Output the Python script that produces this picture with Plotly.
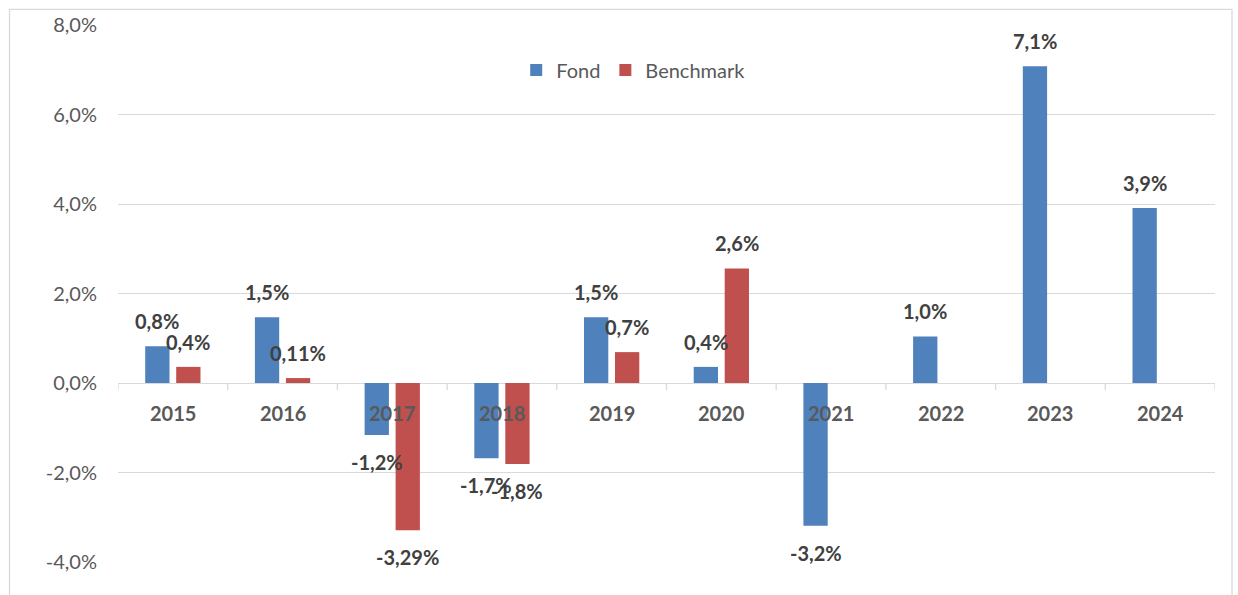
import plotly.graph_objects as go

years = ["2015", "2016", "2017", "2018", "2019", "2020", "2021", "2022", "2023", "2024"]
fond = [0.82, 1.47, -1.16, -1.68, 1.47, 0.36, -3.19, 1.04, 7.08, 3.91]
fond_decimals = [1, 1, 1, 1, 1, 1, 1, 1, 1, 1]
benchmark = [0.36, 0.11, -3.29, -1.81, 0.69, 2.56, None, None, None, None]
bench_decimals = [1, 2, 2, 1, 1, 1, 0, 0, 0, 0]
y_ticks = [-4, -2, 0, 2, 4, 6, 8]

FONT = "Lato"
GRAY = "#595959"
DARK = "#404040"
GRID = "#D9D9D9"
BLUE = "#4F81BD"
RED = "#C0504D"


def fmt(v, d):
    return f"{v:.{d}f}".replace(".", ",") + "%"


fig = go.Figure()
fig.add_trace(go.Bar(x=years, y=fond, name="Fond", marker=dict(color=BLUE, line=dict(width=0))))
fig.add_trace(go.Bar(x=years, y=benchmark, name="Benchmark", marker=dict(color=RED, line=dict(width=0))))

annotations = []
# category labels sitting just under the zero line
for i, yr in enumerate(years):
    annotations.append(dict(x=i, y=0, xref="x", yref="y", text="<b>" + yr + "</b>", showarrow=False,
                            yshift=-30, font=dict(family=FONT, size=20, color=GRAY)))
# data labels
for series, decs, shift in ((fond, fond_decimals, -15.5), (benchmark, bench_decimals, 15.5)):
    for i, (v, d) in enumerate(zip(series, decs)):
        if v is None:
            continue
        annotations.append(dict(x=i, y=v, xref="x", yref="y", text="<b>" + fmt(v, d) + "</b>",
                                showarrow=False, xshift=shift, yshift=25 if v >= 0 else -27,
                                font=dict(family=FONT, size=20, color=DARK)))

shapes = []
# small tick marks on the zero axis at category boundaries
for i in range(len(years) + 1):
    shapes.append(dict(type="line", xref="x", yref="y", x0=i - 0.5, x1=i - 0.5,
                       ysizemode="pixel", yanchor=0, y0=0, y1=-7,
                       line=dict(color=GRID, width=1.3)))
# chart border
shapes.append(dict(type="rect", xref="paper", yref="paper", x0=-0.0989, x1=1.0155, y0=-0.069, y1=1.029,
                   line=dict(color=GRID, width=1.3), fillcolor="rgba(0,0,0,0)", layer="below"))

fig.update_layout(
    width=1238, height=595,
    margin=dict(l=118, r=23, t=22, b=33),
    paper_bgcolor="white", plot_bgcolor="white",
    barmode="group", bargap=0.435, bargroupgap=0.216,
    font=dict(family=FONT, color=GRAY, size=20),
    showlegend=True,
    legend=dict(orientation="h", x=0.363, y=0.916, xanchor="left", yanchor="middle",
                bgcolor="rgba(0,0,0,0)", font=dict(family=FONT, size=20, color=GRAY),
                itemwidth=30, traceorder="normal"),
    annotations=annotations,
    shapes=shapes,
)
fig.update_xaxes(type="category", range=[-0.5, 9.5], showticklabels=False, showgrid=False,
                 zeroline=False, showline=False, ticks="")
fig.update_yaxes(range=[-4, 8], tickvals=y_ticks, ticktext=[fmt(v, 1) for v in y_ticks],
                 showgrid=True, gridcolor=GRID, gridwidth=1.3, zeroline=True, zerolinecolor=GRID,
                 zerolinewidth=1.3, showline=False, ticks="", ticklabelstandoff=20,
                 tickfont=dict(family=FONT, size=20, color=GRAY))

fig.write_html("out.html", config={"displayModeBar": False},
               post_script="document.body.style.margin='0';")
